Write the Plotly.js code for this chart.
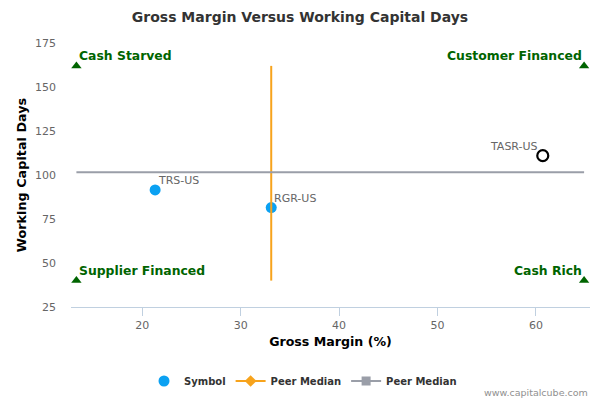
<!DOCTYPE html>
<html>
<head>
<meta charset="utf-8">
<script src="https://cdn.plot.ly/plotly-3.0.1.min.js"></script>
<style>html,body{margin:0;padding:0;background:#fff;}#chart{width:600px;height:400px;}</style>
</head>
<body>
<div id="chart"></div>
<script>
// Data
var peerSymbols = ["TRS-US", "RGR-US"];
var peerGrossMargin = [21.3, 33.1];
var peerWCDays = [91.5, 81.5];

var focusSymbol = ["TASR-US"];
var focusGrossMargin = [60.7];
var focusWCDays = [111];

var medianGrossMargin = 33.1;
var medianWCDays = 101.5;

var quadrantLabels = ["Cash Starved", "Customer Financed", "Supplier Financed", "Cash Rich"];
var quadrantX = [13.3, 64.9, 13.3, 64.9];
var quadrantY = [162, 162, 40, 40];

var xMin = 12.75, xMax = 65.5;
var yMin = 25, yMax = 175;
var xTicks = [20, 30, 40, 50, 60];
var yTicks = [25, 50, 75, 100, 125, 150, 175];

var FONT = "DejaVu Sans, Verdana, sans-serif";
var BLUE = "#0ba1f2";
var ORANGE = "#f7a31c";
var GRAY = "#9a9ea8";
var GREEN = "#006400";

var traces = [
  {
    x: peerGrossMargin, y: peerWCDays,
    mode: "markers", type: "scatter", name: "Symbol",
    marker: {color: BLUE, size: 11}, cliponaxis: false
  },
  {
    x: [medianGrossMargin, medianGrossMargin], y: [quadrantY[2], quadrantY[0]],
    mode: "lines", type: "scatter", name: "Peer Median", showlegend: false,
    line: {color: ORANGE, width: 2}, hoverinfo: "skip"
  },
  {
    x: [quadrantX[0], quadrantX[1]], y: [medianWCDays, medianWCDays],
    mode: "lines", type: "scatter", name: "Peer Median", showlegend: false,
    line: {color: GRAY, width: 2}, hoverinfo: "skip"
  },
  {
    x: focusGrossMargin, y: focusWCDays,
    mode: "markers", type: "scatter", name: "Focus",
    marker: {color: "#ffffff", size: 11, line: {color: "#000000", width: 2.2}},
    showlegend: false, cliponaxis: false
  },
  {
    x: quadrantX, y: quadrantY,
    mode: "markers", type: "scatter", name: "Quadrants",
    marker: {symbol: "triangle-up", size: 9, color: GREEN},
    showlegend: false, cliponaxis: false
  },
  // legend entries for the median lines
  {x: [null], y: [null], mode: "lines+markers", type: "scatter", name: "Peer Median",
    line: {color: ORANGE, width: 2}, marker: {symbol: "diamond", size: 9, color: ORANGE}},
  {x: [null], y: [null], mode: "lines+markers", type: "scatter", name: "Peer Median",
    line: {color: GRAY, width: 2}, marker: {symbol: "square", size: 9, color: GRAY}}
];

var anchors = [
  {xa: "left", dx: 1},
  {xa: "right", dx: 0},
  {xa: "left", dx: 1},
  {xa: "right", dx: 0}
];
var annotations = quadrantLabels.map(function (t, i) {
  return {
    x: quadrantX[i], y: quadrantY[i], xref: "x", yref: "y", text: "<b>" + t + "</b>",
    showarrow: false, xanchor: anchors[i].xa, yanchor: "bottom",
    xshift: anchors[i].dx, yshift: 1,
    font: {family: FONT, size: 12.4, color: GREEN}
  };
});
// point labels
var pointLabels = peerSymbols.map(function (s, i) {
  return {x: peerGrossMargin[i], y: peerWCDays[i], text: s, anchor: "left"};
}).concat(focusSymbol.map(function (s, i) {
  return {x: focusGrossMargin[i], y: focusWCDays[i], text: s, anchor: "right"};
}));
pointLabels.forEach(function (p) {
  annotations.push({
    x: p.x, y: p.y, xref: "x", yref: "y", text: p.text, showarrow: false,
    xanchor: p.anchor, yanchor: "middle", xshift: p.anchor === "left" ? 1 : -3, yshift: 9,
    font: {family: FONT, size: 11, color: "#666666"}
  });
});
annotations.push({
  x: 1, y: -0.322, xref: "paper", yref: "paper", xanchor: "right", yanchor: "middle",
  text: "www.capitalcube.com",
  showarrow: false, font: {family: FONT, size: 9.5, color: "#909090"}
});

var layout = {
  width: 600, height: 400,
  margin: {l: 71, r: 10, t: 43, b: 93},
  paper_bgcolor: "#ffffff", plot_bgcolor: "#ffffff",
  title: {text: "<b>Gross Margin Versus Working Capital Days</b>", x: 0.5, xanchor: "center", y: 0.958, yanchor: "middle",
    font: {family: FONT, size: 14, color: "#333333"}},
  xaxis: {
    range: [xMin, xMax], tickvals: xTicks, ticktext: xTicks.map(String),
    showgrid: false, zeroline: false, showline: true, linecolor: "#c0d0e0", linewidth: 1,
    ticks: "outside", ticklen: 8, tickcolor: "#c0d0e0",
    tickfont: {family: FONT, size: 11, color: "#666666"},
    title: {text: "<b>Gross Margin (%)</b>", font: {family: FONT, size: 12.6, color: "#000000"}, standoff: 5}
  },
  yaxis: {
    range: [yMin, yMax], tickvals: yTicks, ticktext: yTicks.map(String),
    showgrid: false, zeroline: false, showline: false, ticks: "",
    ticklabelstandoff: 14,
    tickfont: {family: FONT, size: 11, color: "#666666"},
    title: {text: "<b>Working Capital Days</b>", font: {family: FONT, size: 12.8, color: "#000000"}, standoff: 5}
  },
  legend: {
    orientation: "h", xref: "container", yref: "container",
    x: 0.505, xanchor: "center", y: 0.0475, yanchor: "middle",
    font: {family: FONT, size: 10, color: "#333333", weight: "bold"},
    itemwidth: 30, tracegroupgap: 0
  },
  annotations: annotations,
  showlegend: true
};

Plotly.newPlot("chart", traces, layout, {displayModeBar: false, staticPlot: true});
</script>
</body>
</html>
